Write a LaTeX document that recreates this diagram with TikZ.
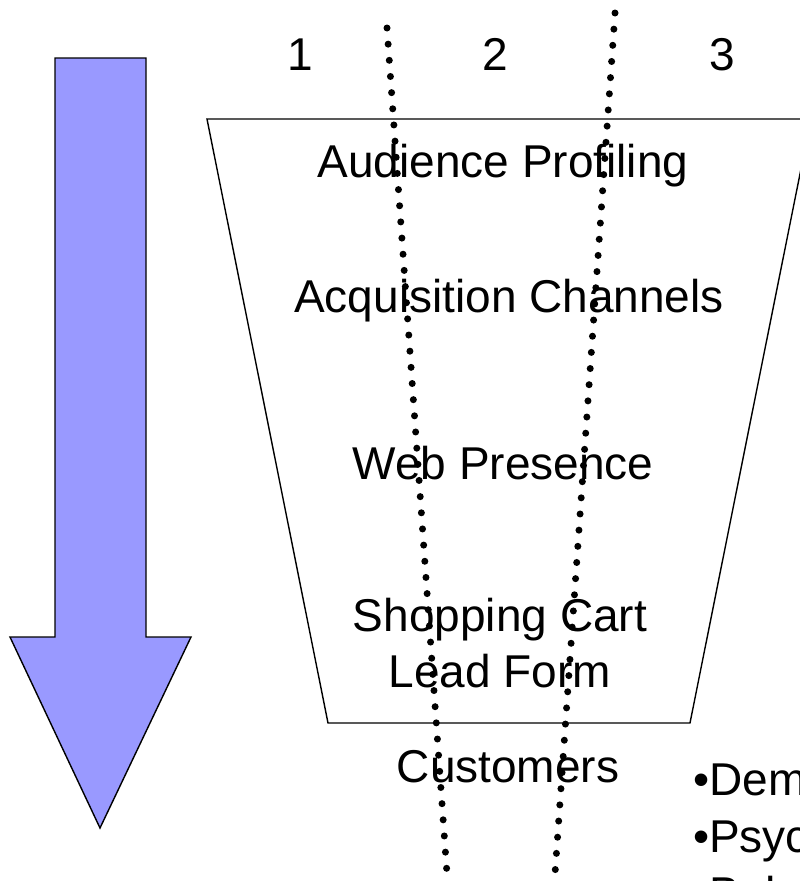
\documentclass[tikz,border=0pt]{standalone}
\usepackage{fontspec}
\setmainfont{Liberation Sans}
\definecolor{arrowblue}{HTML}{9999FF}
\begin{document}
\begin{tikzpicture}[x=1pt,y=-1pt,
  lbl/.style={anchor=base,inner sep=0pt,font=\fontsize{46}{55}\selectfont},
  outline/.style={draw=black,line width=1.4pt,line join=miter},
  dotline/.style={line width=7pt,line cap=round,dash pattern=on 0pt off 16.2pt}]
\useasboundingbox (0,0) rectangle (800,881);
\clip (0,0) rectangle (800,881);
% big arrow
\filldraw[outline,fill=arrowblue] (55,58) -- (146,58) -- (146,637) -- (191,637) -- (100,828) -- (10,637) -- (55,637) -- cycle;
% funnel
\draw[outline] (207,119) -- (811,119) -- (690,723) -- (328,723) -- cycle;
% labels
\node[lbl] (n1) at (300,70) {1};
\node[lbl] (n2) at (495,70) {2};
\node[lbl] (n3) at (722,70) {3};
\node[lbl] (aud) at (503,177) {Audience Profiling};
\node[lbl] (acq) at (509,312) {Acquisition Channels};
\node[lbl] (web) at (503,479) {Web Presence};
\node[lbl] (shop) at (500,631) {Shopping Cart};
\node[lbl] (lead) at (500,687) {Lead Form};
\node[lbl] (cust) at (508,782) {Customers};
\node[lbl,anchor=base west] (b1) at (693,795) {•Demographics};
\node[lbl,anchor=base west] (b2) at (693,852) {•Psychographics};
\node[lbl,anchor=base west] (b3) at (693,909) {•Behavioral};
% dotted dividers
\coordinate (d1a) at (387,28);
\coordinate (d1b) at (447,874);
\coordinate (d2a) at (615,13);
\coordinate (d2b) at (555,874);
\draw[dotline] (d1a) -- (d1b);
\draw[dotline] (d2a) -- (d2b);
\end{tikzpicture}
\end{document}
